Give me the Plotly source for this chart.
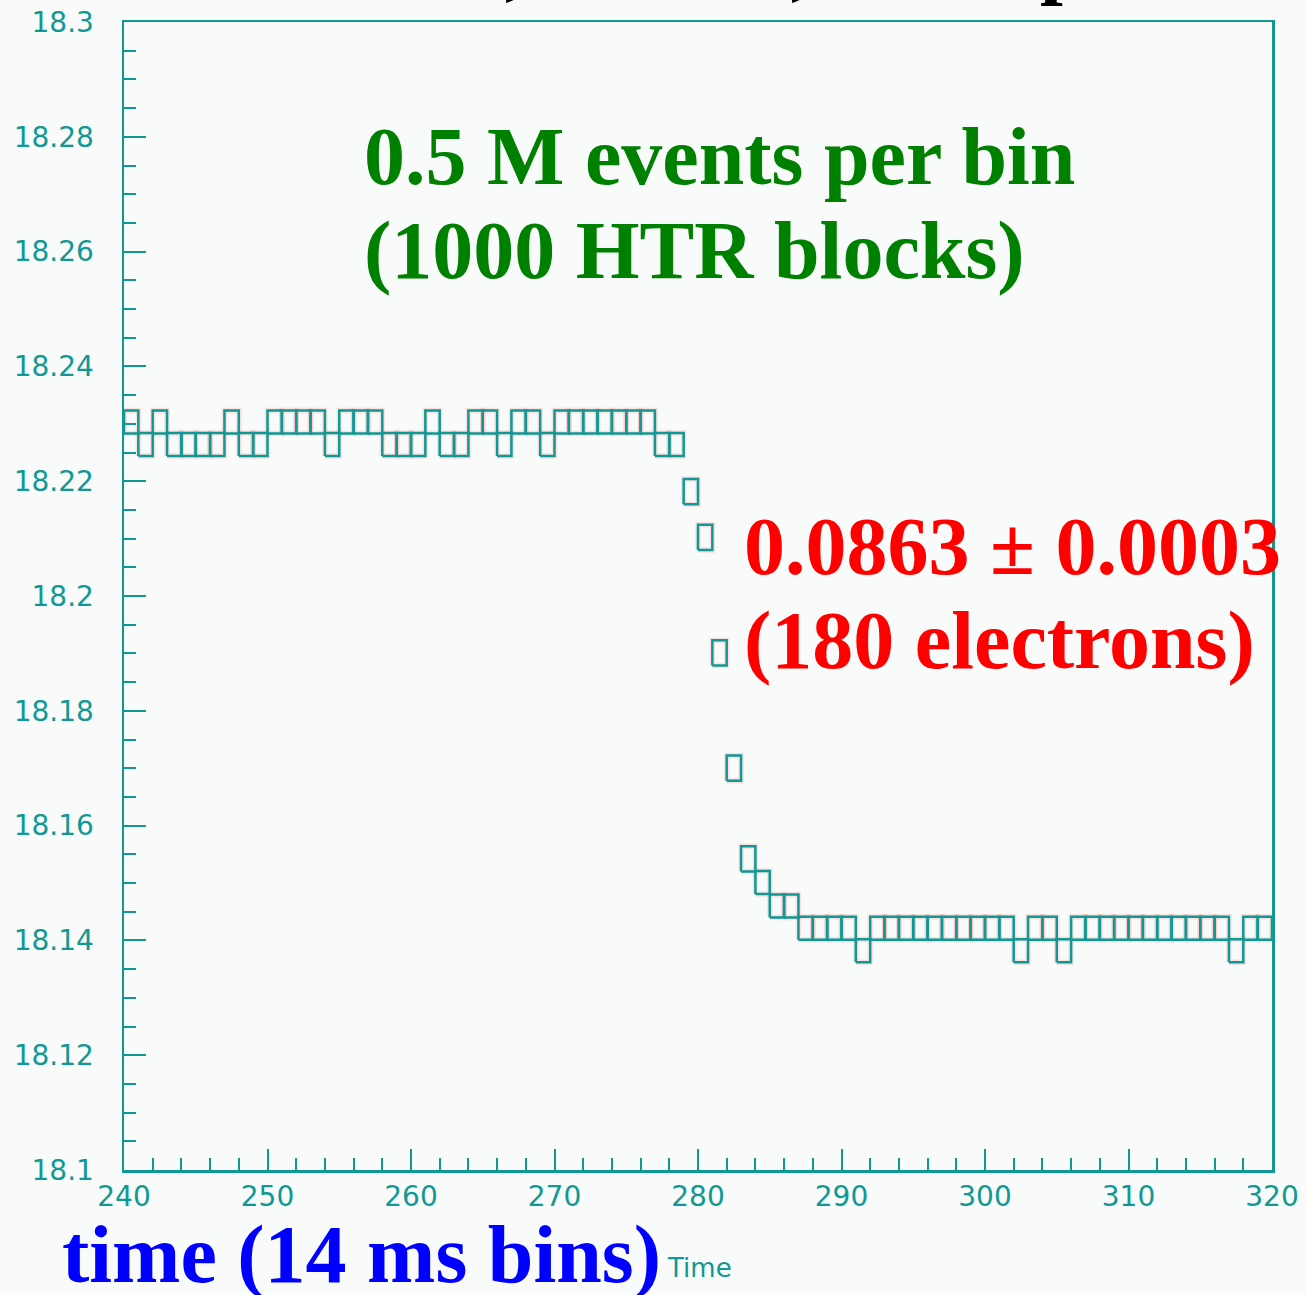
import plotly.graph_objects as go

# ---------------- data ----------------
bins = list(range(240, 320))
values = [
    18.2303, 18.2264, 18.2303, 18.2264, 18.2264, 18.2264, 18.2264, 18.2303, 18.2264, 18.2264,  # 240-249
    18.2303, 18.2303, 18.2303, 18.2303, 18.2264, 18.2303, 18.2303, 18.2303, 18.2264, 18.2264,  # 250-259
    18.2264, 18.2303, 18.2264, 18.2264, 18.2303, 18.2303, 18.2264, 18.2303, 18.2303, 18.2264,  # 260-269
    18.2303, 18.2303, 18.2303, 18.2303, 18.2303, 18.2303, 18.2303, 18.2264, 18.2264, 18.2182,  # 270-279
    18.2102, 18.1901, 18.1700, 18.1542, 18.1501, 18.1460, 18.1460, 18.1421, 18.1421, 18.1421,  # 280-289
    18.1421, 18.1382, 18.1421, 18.1421, 18.1421, 18.1421, 18.1421, 18.1421, 18.1421, 18.1421,  # 290-299
    18.1421, 18.1421, 18.1382, 18.1421, 18.1421, 18.1382, 18.1421, 18.1421, 18.1421, 18.1421,  # 300-309
    18.1421, 18.1421, 18.1421, 18.1421, 18.1421, 18.1421, 18.1421, 18.1382, 18.1421, 18.1421,  # 310-319
]
errors = [0.0020] * 39 + [0.0022, 0.0022, 0.0022, 0.0022, 0.0022] + [0.0020] * 36

y_tickvals = [18.1, 18.12, 18.14, 18.16, 18.18, 18.2, 18.22, 18.24, 18.26, 18.28, 18.3]
y_ticktext = ["18.1", "18.12", "18.14", "18.16", "18.18", "18.2", "18.22", "18.24", "18.26", "18.28", "18.3"]
x_tickvals = [240, 250, 260, 270, 280, 290, 300, 310, 320]
x_ticktext = ["240", "250", "260", "270", "280", "290", "300", "310", "320"]

# ---------------- layout constants ----------------
W, H = 1307, 1295
L, R, T, B = 124, 35, 22, 125
PW, PH = W - L - R, H - T - B
TEAL = "#109894"
BG = "#f8fbf9"


def px_x(p):
    return (p - L) / PW


def px_y(p):
    return (H - B - p) / PH


# ---------------- boxes ----------------
xs, ys = [], []
for b, v, e in zip(bins, values, errors):
    xs += [b, b + 1, b + 1, b, b, None]
    ys += [v - e, v - e, v + e, v + e, v - e, None]

fig = go.Figure()
# faint reddish halo (as in the scanned original)
fig.add_trace(go.Scatter(x=xs, y=ys, mode="lines",
                         line=dict(color="rgba(245,150,150,0.25)", width=5.5),
                         hoverinfo="skip", showlegend=False))
fig.add_trace(go.Scatter(x=xs, y=ys, mode="lines",
                         line=dict(color=TEAL, width=2.5),
                         hoverinfo="skip", showlegend=False))

tickfont = dict(family="DejaVu Sans", size=28, color=TEAL)

fig.update_layout(
    width=W, height=H,
    margin=dict(l=L, r=R, t=T, b=B, autoexpand=False),
    paper_bgcolor=BG, plot_bgcolor=BG,
    showlegend=False,
    xaxis=dict(range=[240, 320], showgrid=False, zeroline=False,
               showline=True, linecolor=TEAL, linewidth=2.5, mirror=True,
               ticks="inside", ticklen=21, tickwidth=2, tickcolor=TEAL,
               tickvals=x_tickvals, ticktext=x_ticktext, tickfont=tickfont,
               ticklabelstandoff=0,
               minor=dict(dtick=2, ticks="inside", ticklen=12, tickwidth=2,
                          tickcolor=TEAL, showgrid=False)),
    yaxis=dict(range=[18.1, 18.3], showgrid=False, zeroline=False,
               showline=True, linecolor=TEAL, linewidth=2.5, mirror=True,
               ticks="inside", ticklen=22, tickwidth=2, tickcolor=TEAL,
               tickvals=y_tickvals, ticktext=y_ticktext, tickfont=tickfont,
               ticklabelstandoff=22,
               minor=dict(dtick=0.005, ticks="inside", ticklen=12, tickwidth=2,
                          tickcolor=TEAL, showgrid=False)),
)

serif = "Liberation Serif"


def ann(text, x, y, color, size=82, family=serif, weight="bold", xanchor="left"):
    fig.add_annotation(text=text, x=px_x(x), y=px_y(y), xref="paper", yref="paper",
                       xanchor=xanchor, yanchor="middle", showarrow=False,
                       font=dict(family=family, size=size, color=color, weight=weight))


# top (cut-off) title fragments: only their descenders remain visible
ann(",", 515, -37, "black", xanchor="center")
ann(",", 801, -37, "black", xanchor="center")
ann("p", 1063, -40, "black", xanchor="center")

ann("0.5 M events per bin", 362, 156, "#008000")
ann("(1000 HTR blocks)", 362, 250, "#008000")
ann("0.0863 \u00b1 0.0003", 742, 546, "#ff0000")
ann("(180 electrons)", 742, 640, "#ff0000")
ann("time (14 ms bins)", 60, 1254, "#0000ff")
ann("Time", 665, 1268, TEAL, size=26, family="DejaVu Sans", weight="normal")

fig.write_html("out.html",
               config={"displayModeBar": False, "staticPlot": True},
               post_script="document.body.style.margin='0';document.body.style.overflow='hidden';")
